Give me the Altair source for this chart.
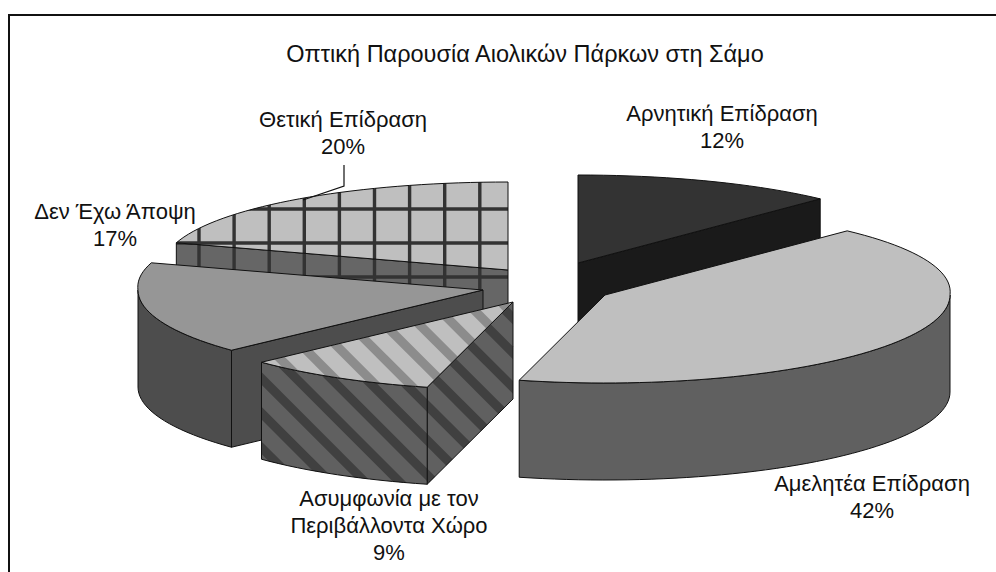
import math
import altair as alt

# Shares of the survey answers, clockwise from twelve o'clock
categories = ["Αρνητική Επίδραση", "Αμελητέα Επίδραση", "Ασυμφωνία με τον\nΠεριβάλλοντα Χώρο",
              "Δεν Έχω Άποψη", "Θετική Επίδραση"]
shares = [12, 42, 9, 17, 20]

# Exploded pie layout: hub of every slice on the page, ellipse radii and wall height
hubs = [(578, 263), (605, 295), (513, 302), (483, 290), (508, 270)]
RX, RY, DEPTH = 345, 88, 97
SKEW = 0.035  # slight widening of the far side of the disc
draw_order = [0, 4, 3, 2, 1]
top_colors = ["#333333", "#bfbfbf", "#bfbfbf", "#969696", "#bfbfbf"]
wall_colors = ["#1a1a1a", "#606060", "#606060", "#4d4d4d", "#666666"]
hatches = [None, None, "stripe", None, "grid"]
label_centers = [(722, 114), (872, 484), (389, 499), (115, 212), (343, 120)]
LINE_GAP = 27
OUTLINE = "#111111"


def rim(hub, deg, drop=0):
    t = math.radians(deg)
    return (hub[0] + RX * math.sin(t) * (1 + SKEW * max(math.cos(t), 0)),
            hub[1] - RY * math.cos(t) + drop)


def arc(hub, a0, a1, drop=0):
    n = max(2, int(abs(a1 - a0) / 2) + 1)
    return [rim(hub, a0 + (a1 - a0) * i / (n - 1), drop) for i in range(n)]


def cut(poly, nx, ny, d):
    """Keep the part of a polygon where nx*x + ny*y <= d."""
    out = []
    for i, p in enumerate(poly):
        q = poly[(i + 1) % len(poly)]
        fp, fq = nx * p[0] + ny * p[1] - d, nx * q[0] + ny * q[1] - d
        if fp <= 0:
            out.append(p)
        if fp * fq < 0:
            r = fp / (fp - fq)
            out.append((p[0] + r * (q[0] - p[0]), p[1] + r * (q[1] - p[1])))
    return out


def band(poly, nx, ny, lo, hi):
    return cut(cut(poly, nx, ny, hi), -nx, -ny, -lo)


def feature(points, fill, stroke="transparent", width=0, closed=True):
    coords = [[round(x, 2), round(y, 2)] for x, y in points]
    if closed:
        geometry = {"type": "Polygon", "coordinates": [coords + [coords[0]]]}
    else:
        geometry = {"type": "LineString", "coordinates": coords}
    return {"type": "Feature", "geometry": geometry,
            "properties": {"fill": fill, "stroke": stroke, "sw": width}}


def stripes(poly, color, phase):
    s2 = math.sqrt(2)
    out = []
    for k in range(-30, 30):
        mid = phase + k * 24.5
        piece = band(poly, 1 / s2, -1 / s2, mid - 4.5, mid + 4.5)
        if len(piece) > 2:
            out.append(feature(piece, color))
    return out


def grid(poly, color):
    out = []
    for k in range(0, 12):
        piece = band(poly, 1, 0, 199 + k * 35.1 - 1.7, 199 + k * 35.1 + 1.7)
        if len(piece) > 2:
            out.append(feature(piece, color))
    for k in range(-2, 8):
        piece = band(poly, 0, 1, 209 + k * 34 - 1.7, 209 + k * 34 + 1.7)
        if len(piece) > 2:
            out.append(feature(piece, color))
    return out


def face(poly, fill, kind, overlay, phase=-82.7):
    parts = [feature(poly, fill)]
    if kind == "stripe":
        parts += stripes(poly, overlay, phase)
    elif kind == "grid":
        parts += grid(poly, overlay)
    parts.append(feature(poly, "transparent", OUTLINE, 1))
    return parts


features = []
edges = [0]
for share in shares:
    edges.append(edges[-1] + share * 3.6)

for idx in draw_order:
    hub, a0, a1 = hubs[idx], edges[idx], edges[idx + 1]
    kind = hatches[idx]
    wall_over = "#404040" if kind == "stripe" else "#333333"
    top_over = "#8c8c8c" if kind == "stripe" else "#333333"
    # The radial cut that faces the viewer
    radial = a1 if a1 < 180 else (a0 if a0 > 180 else None)
    if radial is not None:
        r = rim(hub, radial)
        poly = [hub, r, (r[0], r[1] + DEPTH), (hub[0], hub[1] + DEPTH)]
        features += face(poly, wall_colors[idx], kind, wall_over)
    # The curved outer wall, front half only
    lo, hi = max(a0, 90), min(a1, 270)
    if lo < hi:
        poly = arc(hub, lo, hi) + arc(hub, hi, lo, DEPTH)
        features += face(poly, wall_colors[idx], kind, wall_over)
    # The top surface
    poly = [hub] + arc(hub, a0, a1)
    features += face(poly, top_colors[idx], kind, top_over, phase=-80)

# Leader line of the positive-effect label
leader = feature([(344, 165), (344, 186), (303, 200)], "transparent", OUTLINE, 1.2, closed=False)
features.append(leader)
# Frame around the figure
features.append(feature([(9, 572), (9, 15), (996, 15)], "transparent", "#111111", 2, closed=False))

pie = alt.Chart(alt.Data(values=features)).mark_geoshape().encode(
    fill=alt.Fill("properties.fill:N", scale=None),
    stroke=alt.Stroke("properties.stroke:N", scale=None),
    strokeWidth=alt.StrokeWidth("properties.sw:Q", scale=None),
).project(type="identity", scale=1, translate=[0, 0])

rows = [{"t": "Οπτική Παρουσία Αιολικών Πάρκων στη Σάμο", "x": 525, "y": 55, "s": 23.5}]
for name, share, (cx, cy) in zip(categories, shares, label_centers):
    lines = name.split("\n") + [f"{share}%"]
    for i, line in enumerate(lines):
        rows.append({"t": line, "x": cx, "y": cy + i * LINE_GAP, "s": 22})

labels = alt.Chart(alt.Data(values=rows)).mark_text(
    font="Liberation Sans", align="center", baseline="middle", color="#111111"
).encode(
    x=alt.X("x:Q", scale=None),
    y=alt.Y("y:Q", scale=None),
    text="t:N",
    size=alt.Size("s:Q", scale=None),
)

chart = alt.layer(pie, labels).properties(
    width=996, height=572, padding=0, background="white",
    autosize=alt.AutoSizeParams(type="none"),
).configure_view(stroke=None)

chart.save("out.html", embed_options={"renderer": "svg", "actions": False})
